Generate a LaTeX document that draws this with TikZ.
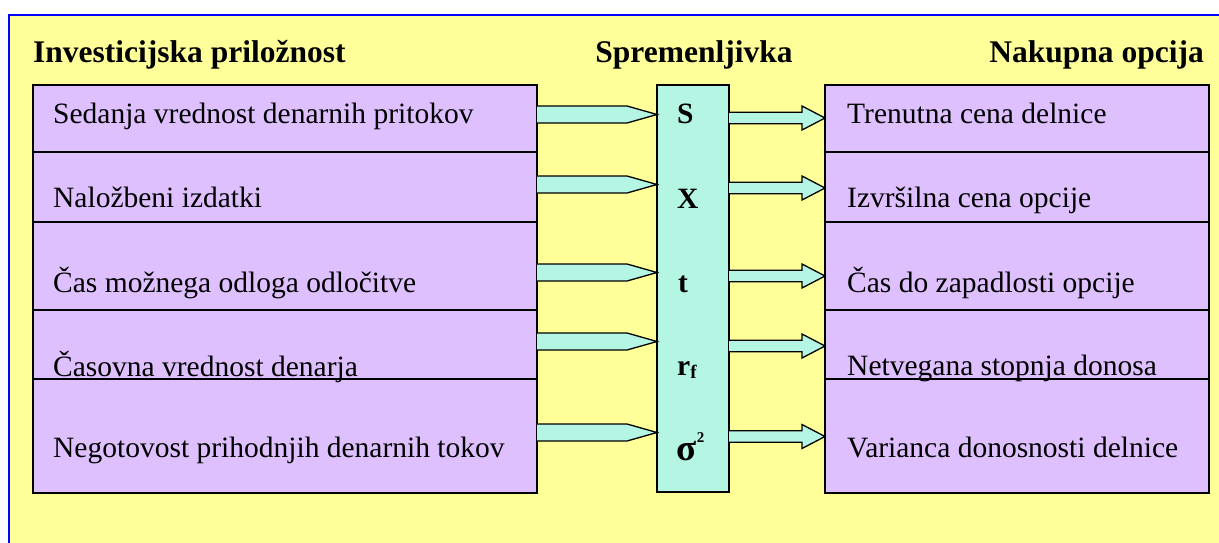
\documentclass[tikz,border=0pt]{standalone}
\usepackage{fontspec}
\setmainfont{Liberation Serif}
\definecolor{bgyellow}{RGB}{255,255,153}
\definecolor{lav}{RGB}{222,192,255}
\definecolor{aqua}{RGB}{180,245,228}
\definecolor{frameblue}{RGB}{0,0,255}
\tikzset{
  rowbox/.style={draw=black, line width=1.6pt, fill=lav},
  midbox/.style={draw=black, line width=1.6pt, fill=aqua},
  arrowshape/.style={draw=black, line width=1.3pt, fill=aqua, line join=miter},
  body/.style={font=\fontsize{29.5}{32}\selectfont, inner sep=0pt, anchor=base west},
  head/.style={font=\fontsize{31.5}{34}\selectfont\bfseries, inner sep=0pt},
  var/.style={font=\fontsize{29.5}{32}\selectfont\bfseries, inner sep=0pt, anchor=base west}
}
\begin{document}
\begin{tikzpicture}[x=1pt,y=-1pt]
\useasboundingbox (0,0) rectangle (1219,542);
\begin{scope}
\clip (0,0) rectangle (1219,542);
\fill[bgyellow] (9,15) rectangle (1240,560);
\draw[frameblue, line width=1.5pt] (9,560) -- (9,15) -- (1240,15);
\end{scope}
% headings
\node[head, anchor=base west] (h1) at (33,62) {Investicijska priložnost};
\node[head, anchor=base] (h2) at (694,62) {Spremenljivka};
\node[head, anchor=base east] (h3) at (1204,62) {Nakupna opcija};
% left boxes
\path[rowbox] (33,85) rectangle (537,152) node[pos=0.5] (L1) {};
\path[rowbox] (33,152) rectangle (537,222) node[pos=0.5] (L2) {};
\path[rowbox] (33,222) rectangle (537,310) node[pos=0.5] (L3) {};
\path[rowbox] (33,310) rectangle (537,379) node[pos=0.5] (L4) {};
\path[rowbox] (33,379) rectangle (537,493) node[pos=0.5] (L5) {};
% right boxes
\path[rowbox] (825,85) rectangle (1209,152) node[pos=0.5] (R1) {};
\path[rowbox] (825,152) rectangle (1209,222) node[pos=0.5] (R2) {};
\path[rowbox] (825,222) rectangle (1209,310) node[pos=0.5] (R3) {};
\path[rowbox] (825,310) rectangle (1209,379) node[pos=0.5] (R4) {};
\path[rowbox] (825,379) rectangle (1209,493) node[pos=0.5] (R5) {};
% middle box
\path[midbox] (657,85) rectangle (729,492) node[pos=0.5] (M) {};
% left texts
\node[body] (lt1) at (53,123) {Sedanja vrednost denarnih pritokov};
\node[body] (lt2) at (53,207) {Naložbeni izdatki};
\node[body] (lt3) at (53,292) {Čas možnega odloga odločitve};
\node[body] (lt4) at (53,376) {Časovna vrednost denarja};
\node[body] (lt5) at (53,457) {Negotovost prihodnjih denarnih tokov};
% right texts
\node[body] (rt1) at (847,123) {Trenutna cena delnice};
\node[body] (rt2) at (847,207) {Izvršilna cena opcije};
\node[body] (rt3) at (847,292) {Čas do zapadlosti opcije};
\node[body] (rt4) at (847,375) {Netvegana stopnja donosa};
\node[body] (rt5) at (847,457) {Varianca donosnosti delnice};
% variables
\node[var] (v1) at (677,123) {S};
\node[var] (v2) at (677,208) {X};
\node[var] (v3) at (678,292) {t};
\node[var] (v4) at (677,375) {r\raisebox{-0.12em}{\fontsize{19}{21}\selectfont f}};
\node[var] (v5) at (676,460) {{\fontsize{37}{40}\selectfont σ}\kern0.5pt\raisebox{0.6em}{\fontsize{15}{17}\selectfont 2}};
% left arrows (pentagons)
\foreach \y in {114.5,184.5,272.5,341.5,432.5}{
  \draw[arrowshape] (537,\y-8.5) -- (627,\y-8.5) -- (657,\y) -- (627,\y+8.5) -- (537,\y+8.5);
}
% right arrows (block arrows)
\foreach \y in {118,188,276,346,436.5}{
  \draw[arrowshape] (729,\y-5.75) -- (802,\y-5.75) -- (802,\y-12) -- (825,\y) -- (802,\y+12) -- (802,\y+5.75) -- (729,\y+5.75);
}
\end{tikzpicture}
\end{document}
